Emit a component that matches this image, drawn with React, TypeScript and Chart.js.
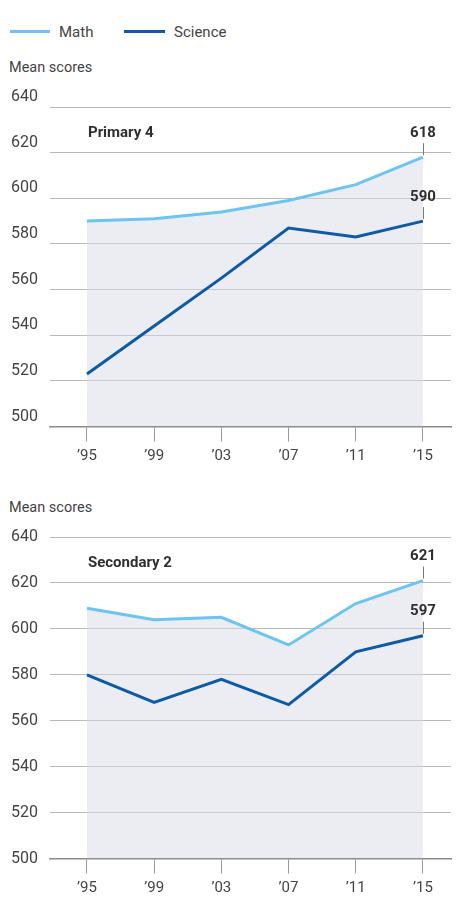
import { useEffect, useRef } from "react"
import { Chart, registerables } from "chart.js"

Chart.register(...registerables)

// TIMSS mean scores
const years = [1995, 1999, 2003, 2007, 2011, 2015]
const yearLabels = ["’95", "’99", "’03", "’07", "’11", "’15"]
const primaryMath = [590, 591, 594, 599, 606, 618]
const primaryScience = [523, 544, 565, 587, 583, 590]
const secondaryMath = [609, 604, 605, 593, 611, 621]
const secondaryScience = [580, 568, 578, 567, 590, 597]
const yMin = 500
const yMax = 640
const yStep = 20

const MATH = "#6cc5f1"
const SCIENCE = "#0d5aa7"
const FONT = "Roboto, 'Open Sans', sans-serif"
const TEXT = "#444"

type PanelProps = {
  title: string
  math: number[]
  science: number[]
  top: number
  height: number
  labelOffset: number
}

function Panel({ title, math, science, top, height, labelOffset }: PanelProps) {
  const chartRef = useRef<HTMLCanvasElement>(null)
  const chartInstance = useRef<Chart | null>(null)

  useEffect(() => {
    if (!chartRef.current) return
    if (chartInstance.current) chartInstance.current.destroy()

    const labelPlugin = {
      id: "panelLabels",
      afterDatasetsDraw(chart: any) {
        const { ctx, chartArea, scales } = chart
        ctx.save()
        ctx.fillStyle = "#2f2f2f"
        ctx.font = `bold 15px ${FONT}`
        ctx.textBaseline = "middle"
        ctx.textAlign = "left"
        ctx.fillText(title, scales.x.getPixelForValue(years[0]) + 1, chartArea.top + 26)

        chart.data.datasets.forEach((ds: any, i: number) => {
          const meta = chart.getDatasetMeta(i)
          const pt = meta.data[meta.data.length - 1]
          const value = ds.data[ds.data.length - 1].y
          ctx.strokeStyle = "#7a7a7a"
          ctx.lineWidth = 1
          ctx.beginPath()
          ctx.moveTo(Math.round(pt.x) + 0.5, pt.y - 14)
          ctx.lineTo(Math.round(pt.x) + 0.5, pt.y - 2)
          ctx.stroke()
          ctx.textAlign = "center"
          ctx.fillStyle = "#2f2f2f"
          ctx.fillText(String(value), pt.x, pt.y - 24)
        })
        ctx.restore()
      },
    }

    chartInstance.current = new Chart(chartRef.current, {
      type: "line",
      data: {
        datasets: [
          {
            label: "Math",
            data: years.map((x, i) => ({ x, y: math[i] })),
            borderColor: MATH,
            borderWidth: 3,
            pointRadius: 0,
            fill: "start",
            backgroundColor: "rgba(216, 219, 231, 0.5)",
          },
          {
            label: "Science",
            data: years.map((x, i) => ({ x, y: science[i] })),
            borderColor: SCIENCE,
            borderWidth: 3,
            pointRadius: 0,
            fill: false,
          },
        ],
      },
      options: {
        responsive: false,
        animation: false,
        layout: { padding: { top: 27, right: 9, left: 0, bottom: 0 } },
        scales: {
          x: {
            type: "linear",
            min: 1992.8,
            max: 2016.67,
            afterBuildTicks: (scale: any) => {
              scale.ticks = years.map((v) => ({ value: v }))
            },
            afterFit: (scale: any) => {
              scale.height = 53.5
            },
            grid: {
              drawOnChartArea: false,
              drawTicks: true,
              tickLength: 15,
              tickColor: "#9a9a9a",
              tickWidth: 1,
            },
            border: { display: true, color: "#8a8a8a", width: 1.5 },
            ticks: {
              autoSkip: false,
              maxRotation: 0,
              padding: 6,
              color: TEXT,
              font: { family: FONT, size: 15 },
              callback: (value: any) => yearLabels[years.indexOf(Number(value))] ?? "",
            },
          },
          y: {
            min: yMin,
            max: yMax,
            afterFit: (scale: any) => {
              scale.width = 50
            },
            grid: {
              drawTicks: false,
              color: "#b9b9b9",
              lineWidth: 1,
            },
            border: { display: false },
            ticks: {
              stepSize: yStep,
              padding: 12,
              labelOffset,
              color: TEXT,
              font: { family: FONT, size: 16 },
            },
          },
        },
        plugins: {
          legend: { display: false },
          tooltip: { enabled: false },
          filler: { drawTime: "beforeDatasetsDraw" },
        },
      } as any,
      plugins: [labelPlugin],
    })

    return () => {
      if (chartInstance.current) {
        chartInstance.current.destroy()
        chartInstance.current = null
      }
    }
  }, [])

  return (
    <canvas
      ref={chartRef}
      width={460}
      height={height}
      style={{ position: "absolute", left: 0, top, width: 460, height }}
    />
  )
}

const textStyle = {
  position: "absolute" as const,
  font: `15px ${FONT}`,
  lineHeight: "18px",
  color: TEXT,
  whiteSpace: "nowrap" as const,
}

export default function App() {
  return (
    <div
      style={{
        position: "absolute",
        left: 0,
        top: 0,
        width: 460,
        height: 924,
        background: "#fff",
        overflow: "hidden",
      }}
    >
      <div style={{ position: "absolute", left: 10, top: 29.5, width: 40, height: 3, background: MATH }} />
      <span style={{ ...textStyle, left: 59, top: 22.7 }}>Math</span>
      <div style={{ position: "absolute", left: 124, top: 29.5, width: 41, height: 3, background: SCIENCE }} />
      <span style={{ ...textStyle, left: 174, top: 22.7 }}>Science</span>

      <span style={{ ...textStyle, left: 9, top: 58.7, fontSize: 14.5 }}>Mean scores</span>
      <Panel
        title="Primary 4"
        math={primaryMath}
        science={primaryScience}
        top={80}
        height={400}
        labelOffset={-10}
      />

      <span style={{ ...textStyle, left: 9, top: 498.7, fontSize: 14.5 }}>Mean scores</span>
      <Panel
        title="Secondary 2"
        math={secondaryMath}
        science={secondaryScience}
        top={510}
        height={402}
        labelOffset={0}
      />
    </div>
  )
}
